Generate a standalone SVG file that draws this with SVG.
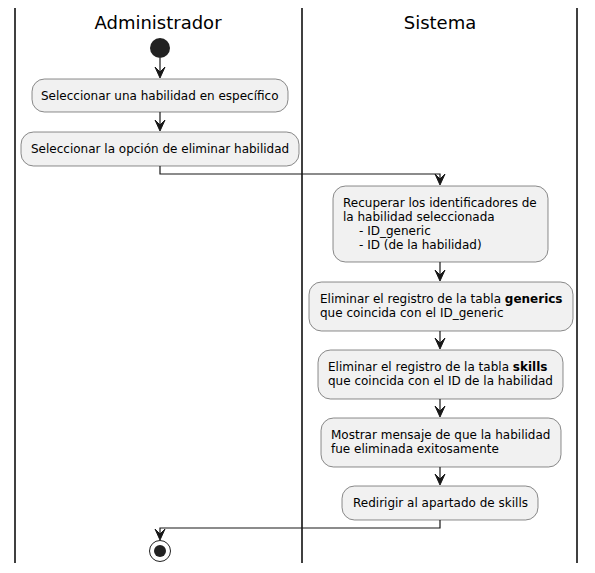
<svg xmlns="http://www.w3.org/2000/svg" width="595" height="573" viewBox="0 0 595 573">
<defs>
<style>
.lane{stroke:#000;stroke-width:1.5;fill:none}
.hdr{font-family:"DejaVu Sans",sans-serif;font-size:18px;fill:#000;text-anchor:middle}
.box{fill:#F1F1F1;stroke:#181818;stroke-width:0.5}
.t{font-family:"DejaVu Sans",sans-serif;font-size:12px;fill:#000}
.c{stroke:#181818;stroke-width:1.2;fill:none}
.ah{fill:#181818;stroke:#181818;stroke-width:1}
</style>
</defs>
<g id="lanes">
<line class="lane" x1="15" y1="8" x2="15" y2="563"/>
<line class="lane" x1="302" y1="8" x2="302" y2="563"/>
<line class="lane" x1="577" y1="8" x2="577" y2="563"/>
<text class="hdr" x="158" y="29">Administrador</text>
<text class="hdr" x="440" y="29">Sistema</text>
</g>
<g id="start"><circle cx="160" cy="48" r="10" fill="#222"/></g>
<g id="n1"><rect class="box" x="32" y="79" width="256" height="33" rx="12.5"/><text class="t" x="41" y="100">Seleccionar una habilidad en específico</text></g>
<g id="n2"><rect class="box" x="21" y="132" width="278" height="34" rx="12.5"/><text class="t" x="31" y="153">Seleccionar la opción de eliminar habilidad</text></g>
<g id="n3"><rect class="box" x="333" y="186" width="215" height="76" rx="12.5"/><text class="t"><tspan x="343" y="207">Recuperar los identificadores de</tspan><tspan x="343" y="221">la habilidad seleccionada</tspan><tspan x="359" y="235">- ID_generic</tspan><tspan x="359" y="249">- ID (de la habilidad)</tspan></text></g>
<g id="n4"><rect class="box" x="309" y="282" width="264" height="49" rx="12.5"/><text class="t"><tspan x="320" y="303">Eliminar el registro de la tabla <tspan font-weight="bold">generics</tspan></tspan><tspan x="320" y="317">que coincida con el ID_generic</tspan></text></g>
<g id="n5"><rect class="box" x="318" y="350" width="245" height="49" rx="12.5"/><text class="t"><tspan x="328" y="371">Eliminar el registro de la tabla <tspan font-weight="bold">skills</tspan></tspan><tspan x="328" y="385">que coincida con el ID de la habilidad</tspan></text></g>
<g id="n6"><rect class="box" x="321" y="418" width="240" height="49" rx="12.5"/><text class="t"><tspan x="331" y="439">Mostrar mensaje de que la habilidad</tspan><tspan x="331" y="453">fue eliminada exitosamente</tspan></text></g>
<g id="n7"><rect class="box" x="342" y="486" width="196" height="34" rx="12.5"/><text class="t" x="353" y="507">Redirigir al apartado de skills</text></g>
<g id="end"><circle cx="160" cy="551" r="10.5" fill="none" stroke="#222" stroke-width="1"/><circle cx="160" cy="551" r="6" fill="#222"/></g>
<g id="connectors">
<line class="c" x1="160" y1="58" x2="160" y2="76"/><polygon class="ah" points="155,67 160,78 165,67 160,72"/>
<line class="c" x1="160" y1="112" x2="160" y2="129"/><polygon class="ah" points="155,120 160,131 165,120 160,125"/>
<polyline class="c" points="160,166 160,174 440,174 440,183"/><polygon class="ah" points="435,174 440,185 445,174 440,179"/>
<line class="c" x1="440" y1="262" x2="440" y2="279"/><polygon class="ah" points="435,270 440,281 445,270 440,275"/>
<line class="c" x1="440" y1="331" x2="440" y2="347"/><polygon class="ah" points="435,338 440,349 445,338 440,343"/>
<line class="c" x1="440" y1="399" x2="440" y2="415"/><polygon class="ah" points="435,406 440,417 445,406 440,411"/>
<line class="c" x1="440" y1="467" x2="440" y2="483"/><polygon class="ah" points="435,474 440,485 445,474 440,479"/>
<polyline class="c" points="440,520 440,528 160,528 160,538"/><polygon class="ah" points="155,529 160,540 165,529 160,534"/>
</g>
</svg>
